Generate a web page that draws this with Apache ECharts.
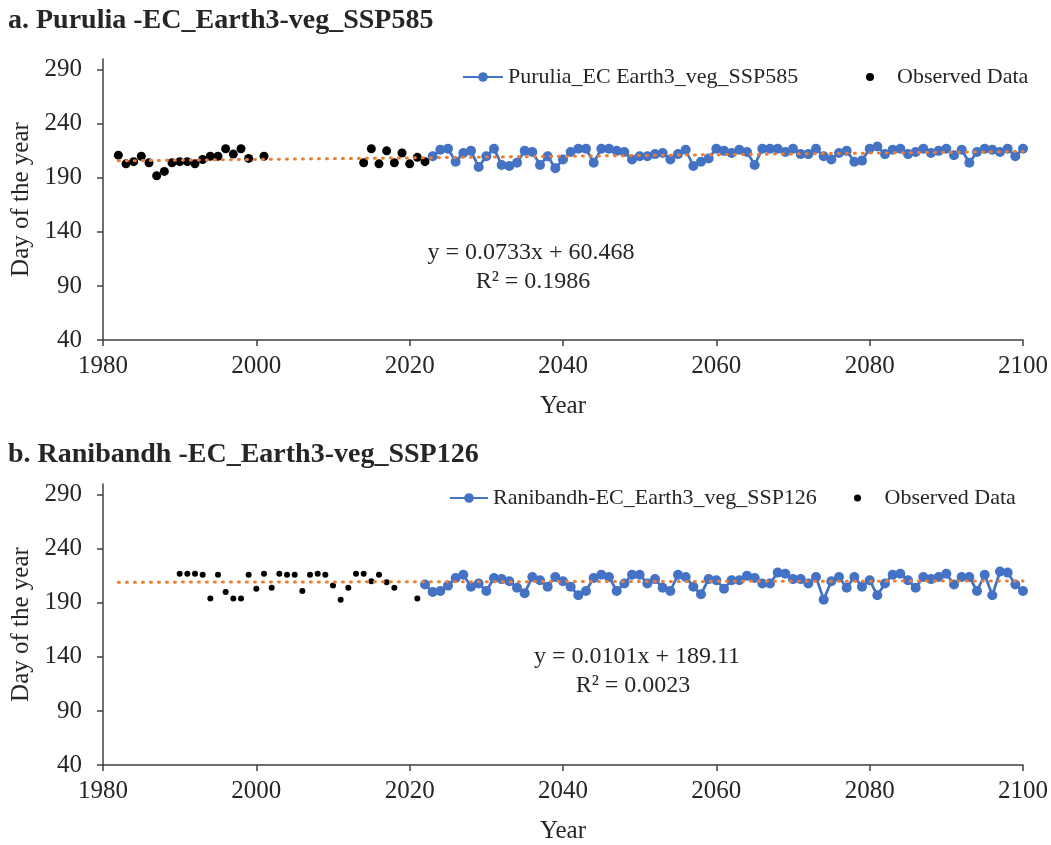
<!DOCTYPE html>
<html><head><meta charset="utf-8">
<script src="https://cdn.jsdelivr.net/npm/echarts@6/dist/echarts.min.js"></script>
<style>html,body{margin:0;padding:0;background:#fff}#c{width:1051px;height:845px}</style>
</head><body><div id="c"></div>
<script>
// ---------- DATA ----------
const titleA = 'a. Purulia -EC_Earth3-veg_SSP585';
const titleB = 'b. Ranibandh -EC_Earth3-veg_SSP126';
const seriesNameA = 'Purulia_EC Earth3_veg_SSP585';
const seriesNameB = 'Ranibandh-EC_Earth3_veg_SSP126';
const obsName = 'Observed Data';

const obsYearsA = [1982,1983,1984,1985,1986,1987,1988,1989,1990,1991,1992,1993,1994,1995,1996,1997,1998,1999,2001,2014,2015,2016,2017,2018,2019,2020,2021,2022];
const obsValuesA = [211,203,205,210,204,192,196,204,205,205,203,207,210,210,217,212,217,208,210,204,217,203,215,204,213,203,209,205];
const projStartA = 2023;
const projValuesA = [210,216,217,205,213,215,200,210,217,202,
  201,204,215,214,202,210,199,207,214,217,
  217,204,217,217,215,214,207,210,210,212,
  213,207,212,216,201,205,208,217,215,213,
  216,214,202,217,217,217,214,217,212,212,
  217,210,207,213,215,205,206,217,219,212,
  216,217,212,214,217,213,215,217,211,216,
  204,214,217,216,214,217,210,217];
const trendCoefA = [0.0733, 60.468];
const trendRangeA = [1982, 2100];
const eqTextA = ['y = 0.0733x + 60.468', 'R² = 0.1986'];

const obsYearsB = [1990,1991,1992,1993,1994,1995,1996,1997,1998,1999,2000,2001,2002,2003,2004,2005,2006,2007,2008,2009,2010,2011,2012,2013,2014,2015,2016,2017,2018,2021];
const obsValuesB = [217,217,217,216,194,216,200,194,194,216,203,217,204,217,216,216,201,216,217,216,206,193,204,217,217,210,216,209,204,194];
const projStartB = 2022;
const projValuesB = [207,200,201,206,213,216,205,208,201,213,
  212,210,204,199,214,211,205,214,210,205,
  197,201,213,216,214,201,208,216,216,208,
  212,204,201,216,214,205,198,212,211,203,
  211,211,215,213,208,208,218,217,212,212,
  208,214,193,210,214,204,214,205,211,197,
  208,216,217,211,204,214,212,214,217,207,
  214,214,201,216,197,219,218,207,201];
const trendCoefB = [0.0101, 189.11];
const trendRangeB = [1982, 2100];
const eqTextB = ['y = 0.0101x + 189.11', 'R² = 0.0023'];

const yTicks = [40, 90, 140, 190, 240, 290];
const xTicks = [1980, 2000, 2020, 2040, 2060, 2080, 2100];

// ---------- BUILD ----------
const FONT = '"Liberation Serif", "Times New Roman", serif';
const TXT = '#262626';
const AX = '#404040';
const BLUE = '#4472C4';
const ORANGE = '#ED7D31';

const pairs = (xs, ys) => xs.map((x, i) => [x, ys[i]]);
const seq = (start, vals) => vals.map((v, i) => [start + i, v]);
const trend = (coef, range) => range.map(x => [x, coef[0] * x + coef[1]]);

function xAxis(gi) {
  return {
    gridIndex: gi, type: 'value', min: 1980, max: 2100, interval: 20,
    name: 'Year', nameLocation: 'middle', nameGap: 54,
    nameTextStyle: {fontFamily: FONT, fontSize: 25, color: TXT},
    axisLine: {lineStyle: {color: AX, width: 1.5}},
    axisTick: {show: true, length: 6, lineStyle: {color: AX, width: 1.5}, customValues: xTicks},
    axisLabel: {fontFamily: FONT, fontSize: 25, color: TXT, margin: 14, customValues: xTicks,
      formatter: v => String(v)},
    splitLine: {show: false}
  };
}
function yAxis(gi) {
  return {
    gridIndex: gi, type: 'value', min: 40, max: 300, interval: 50,
    name: 'Day of the year', nameLocation: 'middle', nameGap: 68, nameRotate: 90,
    nameTextStyle: {fontFamily: FONT, fontSize: 25, color: TXT},
    axisLine: {show: true, lineStyle: {color: AX, width: 1.5}},
    axisTick: {show: true, length: 6, lineStyle: {color: AX, width: 1.5}, customValues: yTicks},
    axisLabel: {fontFamily: FONT, fontSize: 25, color: TXT, margin: 21, customValues: yTicks,
      formatter: v => String(v)},
    splitLine: {show: false}
  };
}
const trendStyle = {color: ORANGE, width: 3, type: [1, 7], cap: 'round'};
const legText = {fontFamily: FONT, fontSize: 22, color: TXT};

const option = {
  backgroundColor: '#fff',
  animation: false,
  grid: [
    {left: 103, right: 28, top: 59, height: 281},
    {left: 103, right: 28, top: 484, height: 281}
  ],
  xAxis: [xAxis(0), xAxis(1)],
  yAxis: [yAxis(0), yAxis(1)],
  legend: [
    {left: 457, top: 61, data: [seriesNameA], itemWidth: 40, itemHeight: 12, textStyle: legText},
    {left: 861, top: 61, data: [{name: obsName, icon: 'circle'}], itemWidth: 44, itemHeight: 8, textStyle: legText},
    {left: 444, top: 482, data: [seriesNameB], itemWidth: 38, itemHeight: 12, textStyle: legText},
    {left: 849, top: 482, data: [{name: obsName, icon: 'circle'}], itemWidth: 44, itemHeight: 7, textStyle: legText}
  ],
  graphic: [
    {type: 'text', left: 8, top: 7, style: {text: titleA, font: 'bold 28px ' + FONT, fill: TXT}},
    {type: 'text', left: 8, top: 441, style: {text: titleB, font: 'bold 28px ' + FONT, fill: TXT}},
    {type: 'text', x: 531, y: 253, style: {text: eqTextA[0], font: '24px ' + FONT, fill: TXT, textAlign: 'center', textVerticalAlign: 'middle'}},
    {type: 'text', x: 533, y: 282, style: {text: eqTextA[1], font: '24px ' + FONT, fill: TXT, textAlign: 'center', textVerticalAlign: 'middle'}},
    {type: 'text', x: 637, y: 657, style: {text: eqTextB[0], font: '24px ' + FONT, fill: TXT, textAlign: 'center', textVerticalAlign: 'middle'}},
    {type: 'text', x: 633, y: 686, style: {text: eqTextB[1], font: '24px ' + FONT, fill: TXT, textAlign: 'center', textVerticalAlign: 'middle'}}
  ],
  series: [
    {name: seriesNameA, type: 'line', xAxisIndex: 0, yAxisIndex: 0, data: seq(projStartA, projValuesA),
     symbol: 'circle', symbolSize: 10, color: BLUE, lineStyle: {color: BLUE, width: 2.75}, itemStyle: {color: BLUE}, z: 2},
    {name: obsName, type: 'scatter', xAxisIndex: 0, yAxisIndex: 0, data: pairs(obsYearsA, obsValuesA),
     symbol: 'circle', symbolSize: 9, itemStyle: {color: '#000', opacity: 1}, z: 2},
    {name: 'trendA', type: 'line', xAxisIndex: 0, yAxisIndex: 0, data: trend(trendCoefA, trendRangeA),
     symbol: 'none', lineStyle: trendStyle, z: 5, silent: true},
    {name: seriesNameB, type: 'line', xAxisIndex: 1, yAxisIndex: 1, data: seq(projStartB, projValuesB),
     symbol: 'circle', symbolSize: 10, color: BLUE, lineStyle: {color: BLUE, width: 2.75}, itemStyle: {color: BLUE}, z: 2},
    {name: obsName, type: 'scatter', xAxisIndex: 1, yAxisIndex: 1, data: pairs(obsYearsB, obsValuesB),
     symbol: 'circle', symbolSize: 6, itemStyle: {color: '#000', opacity: 1}, z: 2},
    {name: 'trendB', type: 'line', xAxisIndex: 1, yAxisIndex: 1, data: trend(trendCoefB, trendRangeB),
     symbol: 'none', lineStyle: trendStyle, z: 5, silent: true}
  ]
};
const chart = echarts.init(document.getElementById('c'), null, {renderer: 'canvas'});
chart.setOption(option);
</script>
</body></html>
